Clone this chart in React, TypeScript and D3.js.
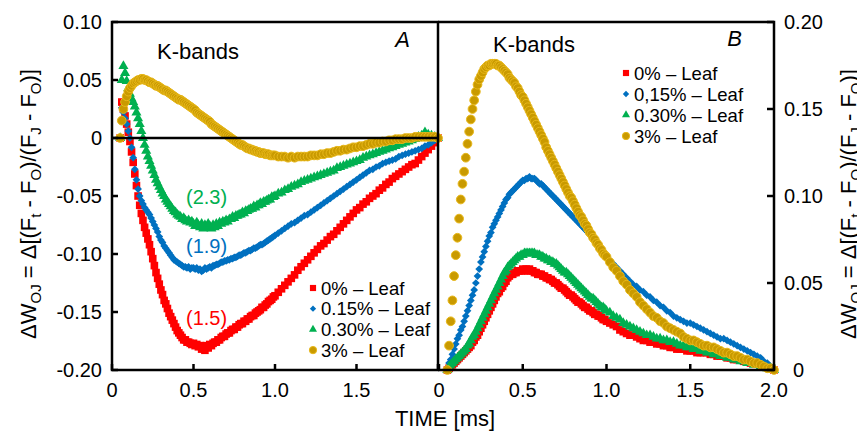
import React from 'react';
import * as d3 from 'd3';

// sampling times (ms)
const TIME = [
  0.05,0.06,0.07,0.08,0.09,0.10,0.11,0.12,0.13,0.14,
  0.15,0.16,0.17,0.18,0.19,0.20,0.21,0.22,0.23,0.24,
  0.25,0.26,0.27,0.28,0.29,0.30,0.31,0.32,0.33,0.34,
  0.35,0.36,0.37,0.38,0.39,0.40,0.41,0.42,0.43,0.44,
  0.45,0.46,0.47,0.48,0.49,0.50,0.51,0.52,0.53,0.54,
  0.55,0.56,0.57,0.58,0.59,0.60,0.61,0.62,0.63,0.64,
  0.65,0.66,0.67,0.68,0.69,0.70,0.71,0.72,0.73,0.74,
  0.75,0.76,0.77,0.78,0.79,0.80,0.81,0.82,0.83,0.84,
  0.85,0.86,0.87,0.88,0.89,0.90,0.91,0.92,0.93,0.94,
  0.95,0.96,0.97,0.98,0.99,1.00,1.02,1.04,1.06,1.08,
  1.10,1.12,1.14,1.16,1.18,1.20,1.22,1.24,1.26,1.28,
  1.30,1.32,1.34,1.36,1.38,1.40,1.42,1.44,1.46,1.48,
  1.50,1.52,1.54,1.56,1.58,1.60,1.62,1.64,1.66,1.68,
  1.70,1.72,1.74,1.76,1.78,1.80,1.82,1.84,1.86,1.88,
  1.90,1.92,1.94,1.96,1.98,2.00,
];

// Panel A (Leaf)
const A_0 = [
  0,0.031,0.025,0.019,0.012,0.005,-0.003,-0.012,-0.021,-0.031,
  -0.041,-0.050,-0.058,-0.065,-0.071,-0.077,-0.082,-0.087,-0.092,-0.098,
  -0.104,-0.110,-0.116,-0.121,-0.126,-0.131,-0.135,-0.140,-0.143,-0.147,
  -0.151,-0.154,-0.157,-0.160,-0.163,-0.166,-0.168,-0.170,-0.172,-0.174,
  -0.174,-0.176,-0.176,-0.177,-0.178,-0.177,-0.179,-0.178,-0.180,-0.179,
  -0.182,-0.180,-0.183,-0.179,-0.181,-0.178,-0.179,-0.177,-0.176,-0.176,
  -0.174,-0.174,-0.172,-0.171,-0.171,-0.169,-0.168,-0.168,-0.166,-0.165,
  -0.165,-0.163,-0.163,-0.161,-0.160,-0.160,-0.158,-0.158,-0.156,-0.156,
  -0.154,-0.153,-0.153,-0.151,-0.150,-0.149,-0.148,-0.146,-0.146,-0.144,
  -0.143,-0.141,-0.140,-0.139,-0.137,-0.136,-0.133,-0.130,-0.127,-0.124,
  -0.121,-0.118,-0.114,-0.111,-0.108,-0.105,-0.102,-0.099,-0.096,-0.093,
  -0.091,-0.088,-0.085,-0.083,-0.080,-0.077,-0.074,-0.071,-0.068,-0.065,
  -0.062,-0.060,-0.057,-0.055,-0.052,-0.050,-0.048,-0.045,-0.043,-0.040,
  -0.038,-0.035,-0.033,-0.031,-0.029,-0.027,-0.025,-0.023,-0.022,-0.019,
  -0.016,-0.013,-0.010,-0.007,-0.004,0,
];
const A_015 = [
  0,0.026,0.022,0.017,0.012,0.006,0.000,-0.008,-0.017,-0.027,
  -0.036,-0.044,-0.050,-0.054,-0.057,-0.060,-0.062,-0.064,-0.066,-0.069,
  -0.072,-0.075,-0.078,-0.081,-0.085,-0.088,-0.090,-0.093,-0.095,-0.097,
  -0.099,-0.101,-0.103,-0.105,-0.106,-0.107,-0.108,-0.109,-0.110,-0.111,
  -0.111,-0.112,-0.111,-0.113,-0.112,-0.112,-0.113,-0.112,-0.114,-0.113,
  -0.115,-0.114,-0.112,-0.113,-0.112,-0.111,-0.112,-0.110,-0.110,-0.109,
  -0.109,-0.108,-0.107,-0.107,-0.106,-0.106,-0.105,-0.105,-0.104,-0.104,
  -0.103,-0.103,-0.102,-0.101,-0.101,-0.100,-0.099,-0.099,-0.098,-0.097,
  -0.097,-0.096,-0.095,-0.095,-0.094,-0.093,-0.092,-0.092,-0.091,-0.090,
  -0.089,-0.088,-0.087,-0.086,-0.085,-0.084,-0.082,-0.080,-0.078,-0.076,
  -0.074,-0.073,-0.071,-0.069,-0.067,-0.066,-0.064,-0.062,-0.060,-0.058,
  -0.056,-0.054,-0.052,-0.050,-0.048,-0.046,-0.044,-0.042,-0.040,-0.038,
  -0.036,-0.034,-0.032,-0.030,-0.028,-0.027,-0.025,-0.024,-0.022,-0.021,
  -0.020,-0.019,-0.018,-0.016,-0.015,-0.014,-0.013,-0.012,-0.011,-0.010,
  -0.009,-0.007,-0.006,-0.004,-0.002,0,
];
const A_030 = [
  0,0.050,0.062,0.056,0.049,0.043,0.038,0.034,0.031,0.027,
  0.022,0.017,0.012,0.006,0.000,-0.006,-0.011,-0.016,-0.020,-0.024,
  -0.028,-0.032,-0.036,-0.039,-0.042,-0.045,-0.048,-0.050,-0.053,-0.055,
  -0.057,-0.059,-0.061,-0.063,-0.064,-0.066,-0.067,-0.068,-0.070,-0.069,
  -0.071,-0.072,-0.071,-0.073,-0.072,-0.074,-0.076,-0.073,-0.075,-0.077,
  -0.074,-0.078,-0.075,-0.077,-0.074,-0.076,-0.078,-0.075,-0.077,-0.074,
  -0.076,-0.073,-0.074,-0.072,-0.073,-0.071,-0.072,-0.070,-0.070,-0.068,
  -0.069,-0.067,-0.067,-0.066,-0.066,-0.064,-0.065,-0.063,-0.063,-0.062,
  -0.061,-0.061,-0.059,-0.060,-0.058,-0.058,-0.056,-0.057,-0.055,-0.055,
  -0.054,-0.053,-0.053,-0.051,-0.051,-0.050,-0.048,-0.047,-0.045,-0.044,
  -0.042,-0.041,-0.040,-0.038,-0.037,-0.036,-0.035,-0.034,-0.033,-0.032,
  -0.031,-0.030,-0.029,-0.028,-0.026,-0.025,-0.024,-0.023,-0.022,-0.021,
  -0.020,-0.019,-0.017,-0.016,-0.015,-0.014,-0.013,-0.012,-0.011,-0.010,
  -0.009,-0.008,-0.007,-0.006,-0.005,-0.004,-0.003,-0.002,-0.001,0.001,
  0.002,0.005,0.003,0.002,0.001,0,
];
const A_3 = [
  0,0.015,0.025,0.031,0.036,0.040,0.043,0.045,0.047,0.048,
  0.049,0.050,0.050,0.051,0.051,0.050,0.050,0.049,0.048,0.048,
  0.047,0.046,0.045,0.045,0.044,0.043,0.042,0.041,0.041,0.040,
  0.039,0.038,0.037,0.036,0.035,0.034,0.033,0.033,0.032,0.031,
  0.030,0.029,0.028,0.027,0.026,0.025,0.024,0.022,0.021,0.020,
  0.019,0.018,0.017,0.016,0.015,0.014,0.012,0.011,0.010,0.009,
  0.008,0.007,0.006,0.005,0.004,0.003,0.002,0.001,0.000,-0.001,
  -0.002,-0.003,-0.004,-0.005,-0.006,-0.006,-0.007,-0.008,-0.009,-0.009,
  -0.010,-0.010,-0.011,-0.011,-0.012,-0.012,-0.013,-0.013,-0.013,-0.014,
  -0.014,-0.014,-0.015,-0.015,-0.015,-0.015,-0.016,-0.016,-0.016,-0.017,
  -0.016,-0.017,-0.016,-0.016,-0.016,-0.016,-0.015,-0.015,-0.015,-0.014,
  -0.014,-0.013,-0.013,-0.012,-0.011,-0.011,-0.010,-0.010,-0.009,-0.008,
  -0.008,-0.007,-0.007,-0.006,-0.005,-0.005,-0.004,-0.004,-0.003,-0.003,
  -0.002,-0.002,-0.001,-0.001,-0.001,0.000,0.000,0.000,0.001,0.001,
  0.001,0.001,0.001,0.001,0.001,0,
];

// Panel B
const B_0 = [
  0,0.001,0.002,0.003,0.004,0.005,0.006,0.007,0.008,0.009,
  0.010,0.011,0.012,0.013,0.014,0.016,0.017,0.019,0.020,0.022,
  0.024,0.026,0.028,0.030,0.032,0.034,0.036,0.038,0.040,0.042,
  0.044,0.045,0.047,0.048,0.050,0.051,0.053,0.054,0.055,0.055,
  0.056,0.056,0.057,0.057,0.057,0.058,0.057,0.058,0.057,0.058,
  0.057,0.057,0.056,0.056,0.055,0.055,0.055,0.054,0.054,0.053,
  0.053,0.052,0.052,0.051,0.050,0.050,0.049,0.048,0.047,0.047,
  0.046,0.045,0.044,0.043,0.043,0.042,0.041,0.040,0.039,0.039,
  0.038,0.037,0.036,0.036,0.035,0.034,0.034,0.033,0.032,0.032,
  0.031,0.031,0.030,0.029,0.029,0.028,0.027,0.026,0.025,0.023,
  0.022,0.021,0.020,0.020,0.019,0.018,0.017,0.017,0.016,0.016,
  0.015,0.015,0.014,0.014,0.013,0.013,0.012,0.012,0.012,0.011,
  0.011,0.011,0.010,0.010,0.010,0.010,0.009,0.009,0.008,0.008,
  0.008,0.007,0.007,0.006,0.006,0.006,0.005,0.005,0.004,0.004,
  0.004,0.003,0.003,0.002,0.001,0,
];
const B_015 = [
  0,0.004,0.006,0.009,0.012,0.015,0.018,0.020,0.023,0.025,
  0.028,0.031,0.034,0.037,0.040,0.043,0.046,0.050,0.054,0.058,
  0.062,0.065,0.068,0.071,0.074,0.077,0.079,0.082,0.084,0.086,
  0.088,0.090,0.092,0.094,0.096,0.098,0.099,0.101,0.102,0.103,
  0.104,0.105,0.106,0.107,0.108,0.109,0.109,0.110,0.110,0.111,
  0.110,0.110,0.110,0.109,0.108,0.107,0.107,0.106,0.105,0.104,
  0.103,0.102,0.101,0.100,0.099,0.098,0.097,0.096,0.095,0.094,
  0.093,0.092,0.091,0.090,0.089,0.088,0.087,0.086,0.085,0.084,
  0.083,0.082,0.081,0.080,0.079,0.079,0.077,0.076,0.075,0.073,
  0.072,0.070,0.069,0.068,0.066,0.065,0.063,0.061,0.059,0.057,
  0.055,0.053,0.051,0.049,0.048,0.046,0.045,0.043,0.042,0.040,
  0.039,0.037,0.036,0.034,0.033,0.031,0.030,0.029,0.028,0.027,
  0.027,0.026,0.025,0.024,0.023,0.022,0.021,0.020,0.019,0.018,
  0.018,0.017,0.016,0.015,0.014,0.013,0.012,0.011,0.010,0.009,
  0.008,0.007,0.005,0.004,0.002,0,
];
const B_030 = [
  0,0.002,0.003,0.004,0.005,0.006,0.007,0.008,0.009,0.010,
  0.011,0.012,0.014,0.015,0.017,0.019,0.020,0.022,0.024,0.026,
  0.028,0.030,0.032,0.034,0.036,0.038,0.040,0.042,0.044,0.046,
  0.048,0.050,0.052,0.054,0.056,0.057,0.059,0.060,0.061,0.062,
  0.063,0.064,0.065,0.065,0.066,0.066,0.067,0.067,0.067,0.067,
  0.067,0.067,0.067,0.066,0.066,0.066,0.065,0.065,0.064,0.064,
  0.063,0.063,0.062,0.062,0.061,0.061,0.060,0.059,0.058,0.057,
  0.056,0.056,0.055,0.054,0.053,0.052,0.051,0.050,0.049,0.048,
  0.047,0.046,0.045,0.044,0.043,0.042,0.041,0.041,0.040,0.039,
  0.038,0.037,0.036,0.036,0.035,0.034,0.033,0.031,0.030,0.029,
  0.027,0.026,0.025,0.024,0.023,0.022,0.021,0.020,0.020,0.019,
  0.018,0.018,0.017,0.017,0.016,0.016,0.015,0.014,0.014,0.013,
  0.013,0.012,0.012,0.011,0.011,0.010,0.010,0.009,0.009,0.008,
  0.008,0.007,0.007,0.006,0.006,0.005,0.005,0.004,0.004,0.003,
  0.003,0.002,0.002,0.001,0.001,0,
];
const B_3 = [
  0,0.014,0.028,0.040,0.054,0.066,0.076,0.087,0.098,0.107,
  0.114,0.122,0.130,0.137,0.144,0.150,0.155,0.160,0.164,0.167,
  0.169,0.171,0.173,0.174,0.175,0.175,0.176,0.176,0.176,0.176,
  0.175,0.175,0.174,0.173,0.172,0.171,0.170,0.168,0.167,0.166,
  0.165,0.163,0.162,0.160,0.158,0.157,0.155,0.153,0.151,0.149,
  0.147,0.145,0.143,0.141,0.139,0.137,0.135,0.133,0.131,0.128,
  0.126,0.124,0.122,0.120,0.118,0.116,0.114,0.112,0.110,0.108,
  0.106,0.104,0.102,0.100,0.099,0.097,0.095,0.093,0.091,0.089,
  0.088,0.086,0.084,0.083,0.081,0.079,0.078,0.076,0.075,0.073,
  0.072,0.070,0.069,0.067,0.066,0.065,0.062,0.059,0.057,0.054,
  0.051,0.049,0.046,0.044,0.042,0.039,0.037,0.035,0.033,0.031,
  0.030,0.028,0.027,0.025,0.024,0.023,0.022,0.021,0.019,0.018,
  0.017,0.017,0.016,0.015,0.014,0.014,0.013,0.013,0.012,0.011,
  0.010,0.010,0.009,0.008,0.008,0.007,0.006,0.006,0.005,0.004,
  0.004,0.003,0.002,0.001,0.001,0,
];

const X_TICKS = [0, 0.5, 1.0, 1.5, 2.0];
const A_X_LABELS = ['0', '0.5', '1.0', '1.5'];
const B_X_LABELS = ['0', '0.5', '1.0', '1.5', '2.0'];
const A_Y_TICKS = [0.1, 0.05, 0, -0.05, -0.1, -0.15, -0.2];
const A_Y_LABELS = ['0.10', '0.05', '0', '-0.05', '-0.10', '-0.15', '-0.20'];
const B_Y_TICKS = [0.2, 0.15, 0.1, 0.05, 0];
const B_Y_LABELS = ['0.20', '0.15', '0.10', '0.05', '0'];
const A_LEGEND = ['0% \u2013 Leaf', '0.15% \u2013 Leaf', '0.30% \u2013 Leaf', '3% \u2013 Leaf'];
const B_LEGEND = ['0% \u2013 Leaf', '0,15% \u2013 Leaf', '0.30% \u2013 Leaf', '3% \u2013 Leaf'];
const ANNOT_TEXT = ['(2.3)', '(1.9)', '(1.5)'];
const ANNOT_T = [0.58, 0.58, 0.58];
const ANNOT_V = [-0.057, -0.099, -0.161];

const FONT = "'Liberation Sans', Arial, Helvetica, sans-serif";

const STYLES = [
  { fill: '#FF0000', stroke: 'none', type: d3.symbolSquare, size: 58, lsize: 38, rot: 0 },
  { fill: '#0070C0', stroke: 'none', type: d3.symbolSquare, size: 30, lsize: 20, rot: 45 },
  { fill: '#00B050', stroke: 'none', type: d3.symbolTriangle, size: 44, lsize: 28, rot: 0 },
  { fill: '#C99A00', stroke: '#E8B81A', type: d3.symbolCircle, size: 60, lsize: 42, rot: 0 },
];

const SERIES_A = [A_0, A_015, A_030, A_3];
const SERIES_B = [B_0, B_015, B_030, B_3];

function Marker({ x, y, s, size }: any) {
  const d = d3.symbol().type(s.type).size(size)() as string;
  return (
    <path
      d={d}
      transform={`translate(${x},${y}) rotate(${s.rot})`}
      fill={s.fill}
      stroke={s.stroke}
      strokeWidth={s.stroke === 'none' ? 0 : 1}
    />
  );
}

function YTitle({ x, y }: any) {
  const sub = { fontSize: 15 };
  return (
    <text transform={`translate(${x},${y}) rotate(-90)`} textAnchor="middle" fontSize={22} fontFamily={FONT} fill="#000">
      <tspan>ΔW</tspan>
      <tspan {...sub} dy={5}>OJ</tspan>
      <tspan dy={-5}> = Δ[(F</tspan>
      <tspan {...sub} dy={5}>t</tspan>
      <tspan dy={-5}> - F</tspan>
      <tspan {...sub} dy={5}>O</tspan>
      <tspan dy={-5}>)/(F</tspan>
      <tspan {...sub} dy={5}>J</tspan>
      <tspan dy={-5}> - F</tspan>
      <tspan {...sub} dy={5}>O</tspan>
      <tspan dy={-5}>)]</tspan>
    </text>
  );
}

export default function App() {
  const W = 857, H = 432;
  const top = 22, bottom = 370;
  const aL = 112, aR = 438, bL = 439, bR = 774;
  const xA = d3.scaleLinear().domain([0, 2]).range([aL, aR]);
  const xB = d3.scaleLinear().domain([0, 2]).range([bL, bR]);
  const yA = d3.scaleLinear().domain([-0.2, 0.1]).range([bottom, top]);
  const yB = d3.scaleLinear().domain([0, 0.2]).range([bottom, top]);
  const lw = 2.5;
  const tick = 6;

  return (
    <svg width={W} height={H} style={{ position: 'absolute', left: 0, top: 0, background: '#fff' }} fontFamily={FONT}>
      <rect x={0} y={0} width={W} height={H} fill="#fff" />

      {/* Panel A data */}
      {SERIES_A.map((vals, si) => (
        <g key={'a' + si}>
          {vals.map((v, i) => (
            <Marker key={i} x={xA(TIME[i])} y={yA(v)} s={STYLES[si]} size={STYLES[si].size} />
          ))}
        </g>
      ))}
      {/* Panel B data */}
      {SERIES_B.map((vals, si) => (
        <g key={'b' + si}>
          {vals.map((v, i) => (
            <Marker key={i} x={xB(TIME[i])} y={yB(v)} s={STYLES[si]} size={STYLES[si].size} />
          ))}
        </g>
      ))}

      {/* Panel A frame */}
      <line x1={aL} x2={aR} y1={yA(0)} y2={yA(0)} stroke="#000" strokeWidth={lw} />
      <rect x={aL} y={top} width={aR - aL} height={bottom - top} fill="none" stroke="#000" strokeWidth={lw} />
      {/* Panel B frame */}
      <path d={`M${aR},${top} H${bR} V${bottom} H${aR}`} fill="none" stroke="#000" strokeWidth={lw} />

      {/* Panel A ticks */}
      {A_Y_TICKS.map((t, i) => (
        <g key={'ay' + i}>
          <line x1={aL} x2={aL + tick} y1={yA(t)} y2={yA(t)} stroke="#000" strokeWidth={lw} />
          <text x={102} y={yA(t) + 7} textAnchor="end" fontSize={20}>{A_Y_LABELS[i]}</text>
        </g>
      ))}
      {X_TICKS.map((t, i) => (
        <g key={'ax' + i}>
          <line x1={xA(t)} x2={xA(t)} y1={bottom} y2={bottom - tick} stroke="#000" strokeWidth={lw} />
          {A_X_LABELS[i] !== undefined && (
            <text x={xA(t)} y={397} textAnchor="middle" fontSize={20}>{A_X_LABELS[i]}</text>
          )}
        </g>
      ))}
      {/* Panel B ticks */}
      {X_TICKS.map((t, i) => (
        <g key={'bx' + i}>
          <line x1={xB(t)} x2={xB(t)} y1={bottom} y2={bottom - tick} stroke="#000" strokeWidth={lw} />
          <text x={xB(t)} y={397} textAnchor="middle" fontSize={20}>{B_X_LABELS[i]}</text>
        </g>
      ))}
      {B_Y_TICKS.map((t, i) => (
        <g key={'by' + i}>
          <line x1={bR} x2={bR - 7} y1={yB(t)} y2={yB(t)} stroke="#000" strokeWidth={lw} />
          <text x={B_Y_LABELS[i] === '0' ? 793 : 784} y={yB(t) + 7} textAnchor="start" fontSize={20}>{B_Y_LABELS[i]}</text>
        </g>
      ))}

      {/* titles */}
      <text x={445} y={426} textAnchor="middle" fontSize={22}>TIME [ms]</text>
      <YTitle x={36} y={204} />
      <YTitle x={856} y={204} />

      {/* panel labels */}
      <text x={157} y={59} fontSize={22}>K-bands</text>
      <text x={410} y={47} fontSize={22} fontStyle="italic" textAnchor="end">A</text>
      <text x={493} y={52} fontSize={22}>K-bands</text>
      <text x={742} y={46} fontSize={22} fontStyle="italic" textAnchor="end">B</text>

      {/* annotations */}
      {ANNOT_TEXT.map((t, i) => (
        <text key={'an' + i} x={xA(ANNOT_T[i])} y={yA(ANNOT_V[i])} textAnchor="middle" fontSize={20} fill={STYLES[2 - i].fill}>{t}</text>
      ))}

      {/* legends */}
      {A_LEGEND.map((lab, i) => {
        const cy = 288 + i * 20.7;
        return (
          <g key={'la' + i}>
            <Marker x={313} y={cy} s={STYLES[i]} size={STYLES[i].lsize} />
            <text x={321} y={cy + 6.5} fontSize={18.5}>{lab}</text>
          </g>
        );
      })}
      {B_LEGEND.map((lab, i) => {
        const cy = 73 + i * 21;
        return (
          <g key={'lb' + i}>
            <Marker x={626} y={cy} s={STYLES[i]} size={STYLES[i].lsize} />
            <text x={634} y={cy + 6.5} fontSize={18.5}>{lab}</text>
          </g>
        );
      })}
    </svg>
  );
}
